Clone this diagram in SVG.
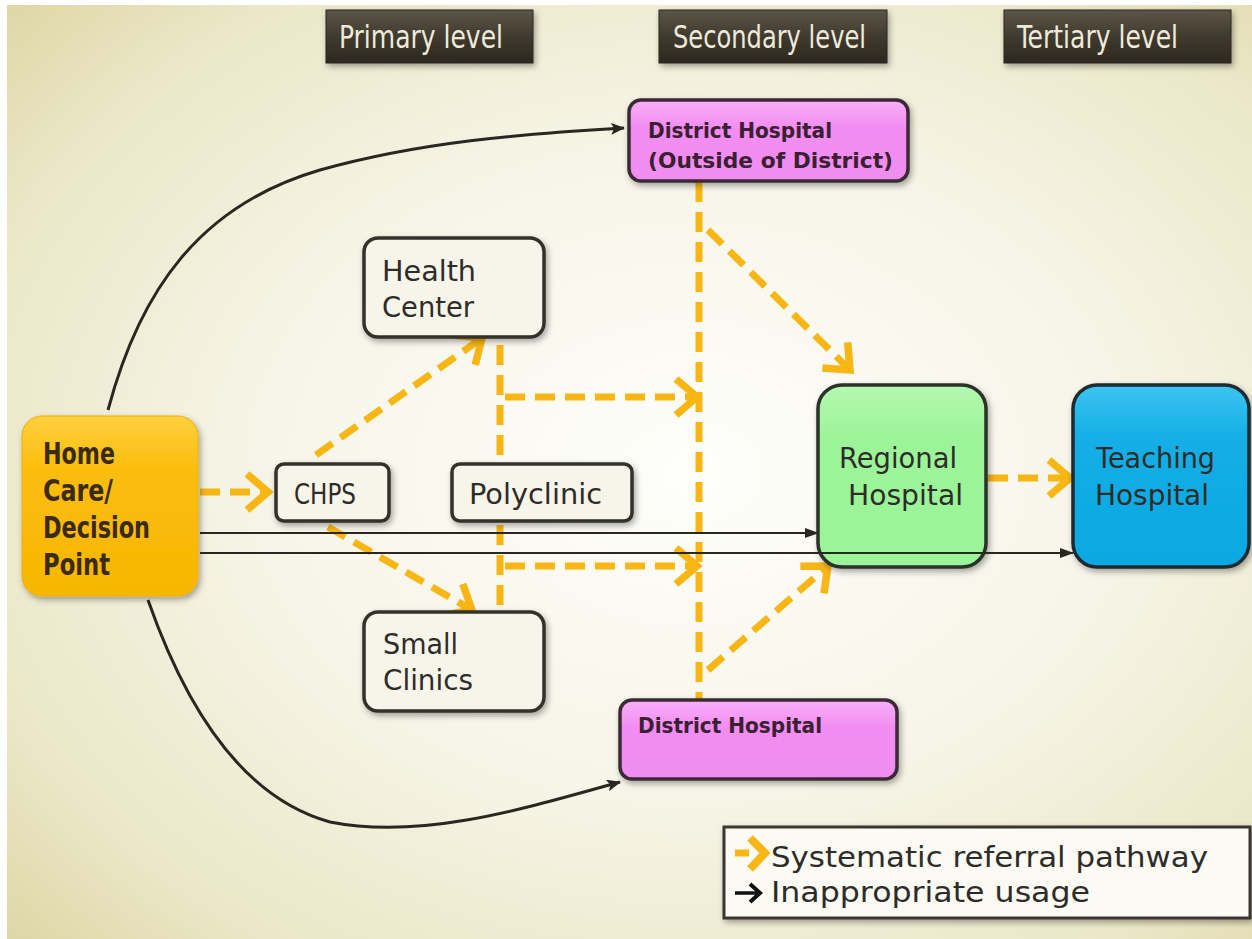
<svg xmlns="http://www.w3.org/2000/svg" width="1252" height="939" viewBox="0 0 1252 939">
<defs>
<radialGradient id="bg" cx="0.55" cy="0.5" r="0.75">
<stop offset="0" stop-color="#fefefb"/>
<stop offset="0.45" stop-color="#f7f5e8"/>
<stop offset="0.8" stop-color="#ebe7c8"/>
<stop offset="1" stop-color="#ddd6a4"/>
</radialGradient>
<linearGradient id="hdr" x1="0" y1="0" x2="0" y2="1">
<stop offset="0" stop-color="#5c5548"/>
<stop offset="0.5" stop-color="#403a2e"/>
<stop offset="1" stop-color="#2c281f"/>
</linearGradient>
<linearGradient id="pink" x1="0" y1="0" x2="0" y2="1">
<stop offset="0" stop-color="#f8b0f8"/>
<stop offset="0.35" stop-color="#f28cf2"/>
<stop offset="1" stop-color="#f08ef0"/>
</linearGradient>
<linearGradient id="gold" x1="0" y1="0" x2="0" y2="1">
<stop offset="0" stop-color="#fdd040"/>
<stop offset="0.3" stop-color="#fbbd0a"/>
<stop offset="1" stop-color="#f7b604"/>
</linearGradient>
<linearGradient id="green" x1="0" y1="0" x2="0" y2="1">
<stop offset="0" stop-color="#b4f8b0"/>
<stop offset="0.3" stop-color="#9cf498"/>
<stop offset="1" stop-color="#9cf49a"/>
</linearGradient>
<linearGradient id="blue" x1="0" y1="0" x2="0" y2="1">
<stop offset="0" stop-color="#3cc4f0"/>
<stop offset="0.3" stop-color="#12aee6"/>
<stop offset="1" stop-color="#10a8e2"/>
</linearGradient>
<filter id="sh" x="-10%" y="-10%" width="125%" height="130%">
<feDropShadow dx="2" dy="3" stdDeviation="3" flood-color="#000" flood-opacity="0.35"/>
</filter>
<marker id="ya" markerUnits="userSpaceOnUse" markerWidth="44" markerHeight="40" viewBox="0 0 44 40" refX="32" refY="20" orient="auto" style="overflow:visible">
<path d="M11,2 L32,20 L11,38" fill="none" stroke="#f7b614" stroke-width="7.5"/>
</marker>
<marker id="ba" markerUnits="userSpaceOnUse" markerWidth="14" markerHeight="12" viewBox="0 0 14 12" refX="13" refY="6" orient="auto">
<path d="M0,0 L14,6 L0,12 L3,6 Z" fill="#2a2620"/>
</marker>
<marker id="ba2" markerUnits="userSpaceOnUse" markerWidth="14" markerHeight="12" viewBox="0 0 14 12" refX="13" refY="6" orient="auto">
<path d="M0,1 L14,6 L0,11 Z" fill="#2a2620"/>
</marker>
<style>
.hdr{fill:url(#hdr);stroke:#2a261e;stroke-width:1}
.ht{font-family:"DejaVu Sans Condensed","DejaVu Sans",sans-serif;font-size:32px;fill:#eeeadb}
.box{fill:#f7f5ea;stroke:#333029;stroke-width:3.5}
.nt{font-family:"DejaVu Sans","Liberation Sans",sans-serif;font-size:28px;fill:#2e2c28}
.bt{font-family:"DejaVu Sans Condensed","DejaVu Sans",sans-serif;font-weight:bold;fill:#3a2a18}
.pt{font-family:"DejaVu Sans Condensed","DejaVu Sans",sans-serif;font-weight:bold;font-size:22px;fill:#3a2030}
.yd{fill:none;stroke:#f7b614;stroke-width:7;stroke-dasharray:20 10}
.bl{fill:none;stroke:#2a2620;stroke-width:3}
.bs{fill:none;stroke:#2a2620;stroke-width:2}
</style>
</defs>
<rect x="0" y="0" width="1252" height="939" fill="#ffffff"/>
<rect x="7" y="5" width="1245" height="934" fill="url(#bg)"/>

<g id="header-primary">
<rect class="hdr" x="326" y="10" width="207" height="53" filter="url(#sh)"/>
<text class="ht" x="339" y="48" textLength="164" lengthAdjust="spacingAndGlyphs">Primary level</text>
</g>
<g id="header-secondary">
<rect class="hdr" x="659" y="10" width="228" height="53" filter="url(#sh)"/>
<text class="ht" x="673" y="48" textLength="193" lengthAdjust="spacingAndGlyphs">Secondary level</text>
</g>
<g id="header-tertiary">
<rect class="hdr" x="1004" y="10" width="227" height="53" filter="url(#sh)"/>
<text class="ht" x="1017" y="48" textLength="161" lengthAdjust="spacingAndGlyphs">Tertiary level</text>
</g>

<g id="connectors">
<path class="yd" d="M500,345 L500,610"/>
<path class="yd" d="M699,182 L699,700"/>
<path class="yd" d="M200,492 L268,492" marker-end="url(#ya)"/>
<path class="yd" d="M316,455 L482,338" marker-end="url(#ya)"/>
<path class="yd" d="M328,527 L472,610" marker-end="url(#ya)"/>
<path class="yd" d="M505,397 L697,397" marker-end="url(#ya)"/>
<path class="yd" d="M505,566 L697,566" marker-end="url(#ya)"/>
<path class="yd" d="M708,230 L850,370" marker-end="url(#ya)"/>
<path class="yd" d="M708,670 L828,566" marker-end="url(#ya)"/>
<path class="yd" d="M988,478 L1070,478" marker-end="url(#ya)"/>
<path class="bl" d="M108,410 C140,290 200,205 320,170 C420,142 520,134 624,128" marker-end="url(#ba)"/>
<path class="bl" d="M148,600 C190,720 250,800 330,822 C420,840 520,810 620,782" marker-end="url(#ba)"/>
<path class="bs" d="M200,533 L818,533" marker-end="url(#ba2)"/>
</g>

<g id="node-district-outside">
<rect x="629" y="100" width="279" height="81" rx="12" fill="url(#pink)" stroke="#3b2b35" stroke-width="3.5" filter="url(#sh)"/>
<text class="pt" x="648" y="138" textLength="184" lengthAdjust="spacingAndGlyphs">District Hospital</text>
<text class="pt" x="648" y="168" textLength="245" lengthAdjust="spacingAndGlyphs">(Outside of District)</text>
</g>
<g id="node-health-center">
<rect class="box" x="364" y="238" width="180" height="99" rx="14" filter="url(#sh)"/>
<text class="nt" x="382" y="281" textLength="94" lengthAdjust="spacingAndGlyphs">Health</text>
<text class="nt" x="382" y="317" textLength="92" lengthAdjust="spacingAndGlyphs">Center</text>
</g>
<g id="node-home">
<rect x="22" y="416" width="176" height="180" rx="20" fill="url(#gold)" stroke="#f0b000" stroke-width="1" filter="url(#sh)"/>
<text class="bt" x="43" y="464" font-size="30" textLength="72" lengthAdjust="spacingAndGlyphs">Home</text>
<text class="bt" x="43" y="501" font-size="30" textLength="70" lengthAdjust="spacingAndGlyphs">Care/</text>
<text class="bt" x="43" y="538" font-size="30" textLength="107" lengthAdjust="spacingAndGlyphs">Decision</text>
<text class="bt" x="43" y="575" font-size="30" textLength="67" lengthAdjust="spacingAndGlyphs">Point</text>
</g>
<g id="node-chps">
<rect class="box" x="276" y="464" width="113" height="57" rx="8" filter="url(#sh)"/>
<text class="nt" x="294" y="504" font-size="27" textLength="62" lengthAdjust="spacingAndGlyphs">CHPS</text>
</g>
<g id="node-polyclinic">
<rect class="box" x="452" y="464" width="180" height="57" rx="8" filter="url(#sh)"/>
<text class="nt" x="469" y="504" font-size="27" textLength="133" lengthAdjust="spacingAndGlyphs">Polyclinic</text>
</g>
<g id="node-small-clinics">
<rect class="box" x="364" y="612" width="180" height="99" rx="14" filter="url(#sh)"/>
<text class="nt" x="383" y="654" textLength="75" lengthAdjust="spacingAndGlyphs">Small</text>
<text class="nt" x="383" y="690" textLength="90" lengthAdjust="spacingAndGlyphs">Clinics</text>
</g>
<g id="node-district">
<rect x="620" y="700" width="277" height="79" rx="12" fill="url(#pink)" stroke="#3b2b35" stroke-width="3.5" filter="url(#sh)"/>
<text class="pt" x="638" y="733" textLength="184" lengthAdjust="spacingAndGlyphs">District Hospital</text>
</g>
<g id="node-regional">
<rect x="818" y="385" width="168" height="182" rx="24" fill="url(#green)" stroke="#2a302a" stroke-width="3.5" filter="url(#sh)"/>
<text class="nt" x="839" y="468" textLength="118" lengthAdjust="spacingAndGlyphs">Regional</text>
<text class="nt" x="848" y="505" textLength="115" lengthAdjust="spacingAndGlyphs">Hospital</text>
</g>
<g id="node-teaching">
<rect x="1073" y="385" width="176" height="182" rx="24" fill="url(#blue)" stroke="#1e2a30" stroke-width="3.5" filter="url(#sh)"/>
<text class="nt" x="1096" y="468" textLength="119" lengthAdjust="spacingAndGlyphs">Teaching</text>
<text class="nt" x="1095" y="505" textLength="114" lengthAdjust="spacingAndGlyphs">Hospital</text>
</g>

<g id="connector-overlay">
<path class="bs" d="M200,553 L1073,553" marker-end="url(#ba2)"/>
</g>

<g id="legend">
<rect x="724" y="827" width="526" height="91" fill="#fbfaf3" stroke="#3a3530" stroke-width="3" filter="url(#sh)"/>
<path d="M735,853 L749,853" stroke="#f7b614" stroke-width="7" fill="none"/>
<path d="M750,838 L765,853 L750,869" stroke="#f7b614" stroke-width="8" fill="none"/>
<path d="M735,893 L760,893" stroke="#111" stroke-width="3.5" fill="none"/>
<path d="M750,884 L760,893 L750,902" stroke="#111" stroke-width="4" fill="none"/>
<text class="nt" x="771" y="867" font-size="29" fill="#2e2c28" textLength="437" lengthAdjust="spacingAndGlyphs">Systematic referral pathway</text>
<text class="nt" x="771" y="902" font-size="29" fill="#2e2c28" textLength="319" lengthAdjust="spacingAndGlyphs">Inappropriate usage</text>
</g>
</svg>
